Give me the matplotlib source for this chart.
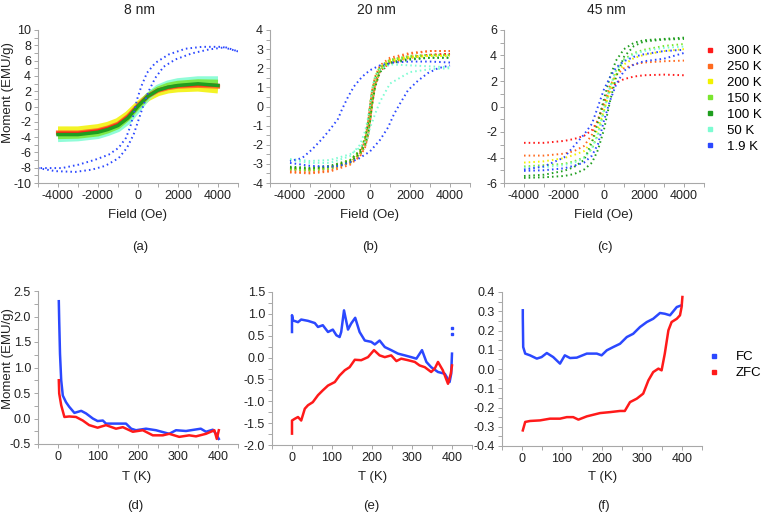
import matplotlib
matplotlib.use("Agg")
import matplotlib.pyplot as plt
from matplotlib.lines import Line2D
from matplotlib.ticker import MultipleLocator

plt.rcParams['font.family'] = ['Liberation Sans', 'DejaVu Sans']
plt.rcParams['axes.unicode_minus'] = False

# ---------------- data ----------------
temps = ['300 K', '250 K', '200 K', '150 K', '100 K', '50 K', '1.9 K']
colors = ['#ff1a1a', '#ff6a1f', '#f2f200', '#7ae62e', '#1f9e1f', '#7dfcd2', '#2b48ff']

# (a) 8 nm
a_field = [-4000, -3000, -2000, -1500, -1000, -500, 0, 500, 1000, 1500, 2000, 3000, 4000]
a_300 = [-3.5, -3.5, -3.2, -2.85, -2.35, -1.35, 0.1, 1.4, 2.15, 2.5, 2.7, 2.85, 2.75]
a_250 = [-3.4, -3.4, -3.1, -2.75, -2.25, -1.25, 0.15, 1.35, 2.05, 2.4, 2.6, 2.7, 2.6]
a_200 = [-3.1, -3.1, -2.8, -2.5, -2.0, -1.1, 0.15, 1.2, 1.85, 2.2, 2.35, 2.45, 2.2]
a_150 = [-3.9, -3.85, -3.55, -3.15, -2.6, -1.5, 0.0, 1.4, 2.25, 2.75, 3.0, 3.2, 3.15]
a_100 = [-3.67, -3.67, -3.36, -3.0, -2.49, -1.49, 0.04, 1.35, 2.14, 2.53, 2.75, 2.97, 2.75]
a_50 = [-4.2, -4.1, -3.8, -3.4, -2.9, -1.9, -0.3, 1.3, 2.4, 2.95, 3.25, 3.5, 3.5]
a_19_field_down = [5000, 4200, 3200, 2367, 1533, 867, 450, 167, -50, -200, -383, -600, -967,
                   -1467, -2133, -2967, -3800, -5000]
a_19_down = [7.2, 7.8, 7.8, 7.55, 6.8, 5.7, 4.4, 2.65, 0.9, -0.85, -2.6, -4.1, -5.4,
             -6.3, -6.95, -7.6, -8.05, -8.05]
a_19_field_up = [-5000, -4133, -3133, -2300, -1633, -967, -550, -217, 33, 283, 533, 867,
                 1283, 1867, 2700, 3533, 4367, 5000]
a_19_up = [-8.05, -8.45, -8.55, -8.25, -7.75, -6.75, -5.4, -3.65, -1.7, 0.25, 2.0, 3.75,
           5.2, 6.15, 6.95, 7.45, 7.75, 7.2]

# (b) 20 nm
b_field = [-4000, -3000, -2000, -1000, -500, -250, -100, 0, 100, 250, 500, 1000, 2000, 3000, 4000]
b_300_down = [-3.25, -3.3, -3.2, -2.85, -2.4, -1.75, -0.85, 0.0, 0.75, 1.45, 2.0, 2.35, 2.6, 2.7, 2.75]
b_300_up = [-3.3, -3.35, -3.25, -2.95, -2.55, -2.1, -1.5, -0.8, 0.1, 1.05, 1.85, 2.3, 2.55, 2.7, 2.75]
b_250_down = [-3.4, -3.45, -3.35, -2.95, -2.45, -1.8, -0.9, 0.0, 0.8, 1.55, 2.15, 2.55, 2.8, 2.9, 2.9]
b_250_up = [-3.45, -3.5, -3.4, -3.05, -2.6, -2.15, -1.55, -0.85, 0.1, 1.1, 1.95, 2.45, 2.75, 2.9, 2.9]
b_200_down = [-3.2, -3.25, -3.15, -2.8, -2.3, -1.65, -0.8, 0.05, 0.8, 1.5, 2.05, 2.4, 2.6, 2.65, 2.65]
b_200_up = [-3.25, -3.3, -3.2, -2.9, -2.45, -2.0, -1.4, -0.7, 0.15, 1.1, 1.9, 2.35, 2.55, 2.65, 2.65]
b_150_down = [-3.25, -3.3, -3.2, -2.85, -2.35, -1.7, -0.8, 0.05, 0.85, 1.55, 2.1, 2.45, 2.65, 2.7, 2.7]
b_150_up = [-3.3, -3.35, -3.25, -2.95, -2.5, -2.05, -1.45, -0.75, 0.1, 1.1, 1.9, 2.4, 2.6, 2.7, 2.7]
b_100_down = [-3.15, -3.2, -3.1, -2.8, -2.3, -1.7, -0.85, 0.0, 0.75, 1.45, 2.0, 2.3, 2.5, 2.55, 2.55]
b_100_up = [-3.2, -3.25, -3.15, -2.9, -2.45, -2.0, -1.45, -0.8, 0.05, 1.0, 1.8, 2.25, 2.45, 2.55, 2.55]
b_50_down = [-2.8, -2.95, -2.95, -2.6, -2.0, -1.3, -0.6, 0.0, 0.85, 1.5, 1.95, 2.2, 2.15, 2.1, 2.05]
b_50_up = [-2.75, -2.85, -2.8, -2.5, -2.15, -1.85, -1.6, -1.1, -0.85, -0.4, 0.25, 1.2, 1.8, 1.95, 2.0]
b_19_field_down = [4000, 3000, 2000, 1200, 500, 0, -400, -800, -1100, -1400, -1600, -2000,
                   -2400, -2900, -3400, -4000]
b_19_down = [2.3, 2.35, 2.35, 2.3, 2.15, 1.9, 1.55, 1.05, 0.5, -0.15, -0.65, -1.2, -1.7,
             -2.25, -2.7, -2.85]
b_19_field_up = [-4000, -3000, -2000, -1500, -600, 0, 500, 900, 1200, 1500, 1900, 2400, 2900,
                 3400, 4000]
b_19_up = [-2.95, -3.1, -3.15, -3.1, -2.75, -2.35, -1.75, -1.1, -0.4, 0.15, 0.85, 1.35, 1.75,
           2.0, 2.15]

# (c) 45 nm
c_field = [-4000, -3000, -2000, -1500, -1000, -600, -300, 0, 300, 600, 1000, 1500, 2000, 3000, 4000]
c_300 = [-2.85, -2.85, -2.7, -2.55, -2.3, -1.85, -1.1, 0.2, 1.25, 1.85, 2.15, 2.35, 2.45, 2.5, 2.45]
c_250 = [-3.85, -3.85, -3.7, -3.5, -3.1, -2.2, -1.0, 0.35, 1.6, 2.45, 3.0, 3.3, 3.45, 3.55, 3.6]
c_200 = [-4.4, -4.3, -4.05, -3.8, -3.5, -2.75, -1.7, -0.3, 1.2, 2.5, 3.3, 3.8, 4.05, 4.35, 4.5]
c_150 = [-4.7, -4.6, -4.5, -4.3, -4.0, -3.3, -2.2, -0.35, 1.45, 2.85, 3.7, 4.2, 4.45, 4.75, 4.9]
c_100_down = [-5.45, -5.35, -5.05, -4.75, -4.2, -2.8, -1.2, 0.6, 2.3, 3.6, 4.5, 5.0, 5.2, 5.3, 5.4]
c_100_up = [-5.6, -5.55, -5.45, -5.3, -4.95, -4.4, -3.4, -1.8, 0.4, 2.3, 3.9, 4.75, 5.1, 5.25, 5.3]
c_50 = [-4.8, -4.75, -4.6, -4.4, -4.05, -3.3, -2.1, -0.2, 1.5, 2.8, 3.6, 4.1, 4.35, 4.6, 4.7]
c_19_down = [-4.95, -4.7, -4.0, -3.1, -2.2, -1.35, 0.0, 1.35, 2.3, 3.05, 3.55, 3.9, 4.1, 4.35, 4.45]
c_19_up = [-5.05, -5.0, -4.85, -4.65, -4.4, -3.85, -2.95, -1.1, 0.45, 1.7, 2.8, 3.3, 3.55, 3.75, 4.2]

# (d) 8 nm FC / ZFC
d_T_fc = [2, 3, 5, 8, 12, 20, 28, 41, 58, 70, 87, 99, 112, 120, 145, 170, 183, 195, 220,
          245, 278, 295, 320, 357, 370, 387, 395, 402]
d_fc = [2.30, 1.92, 1.27, 0.75, 0.45, 0.32, 0.23, 0.11, 0.15, 0.10, 0.0, -0.05, -0.04, -0.10,
        -0.10, -0.10, -0.20, -0.23, -0.20, -0.23, -0.30, -0.23, -0.245, -0.20, -0.26, -0.22,
        -0.30, -0.40]
d_T_zfc = [2, 3, 8, 16, 28, 45, 62, 78, 99, 120, 145, 162, 187, 212, 237, 262, 278, 303, 328,
           345, 370, 391, 397, 402]
d_zfc = [0.75, 0.49, 0.26, 0.03, 0.04, 0.03, -0.04, -0.13, -0.18, -0.13, -0.20, -0.17, -0.26,
         -0.23, -0.33, -0.33, -0.30, -0.36, -0.33, -0.35, -0.30, -0.23, -0.40, -0.23]

# (e) 20 nm FC / ZFC
e_T_fc = [0, 0, 2.5, 15, 23, 40, 57, 65, 77, 90, 102, 111, 119, 123, 130, 140, 148, 158, 169,
          182, 198, 207, 219, 232, 248, 265, 282, 298, 311, 325, 336, 348, 365, 382, 394, 398, 400]
e_fc = [0.585, 0.97, 0.85, 0.81, 0.87, 0.84, 0.79, 0.70, 0.74, 0.585, 0.64, 0.51, 0.47, 0.585,
        1.08, 0.64, 0.78, 0.91, 0.585, 0.39, 0.36, 0.30, 0.39, 0.24, 0.17, 0.09, 0.05, 0.01,
        -0.025, 0.17, -0.10, -0.22, -0.33, -0.37, -0.56, -0.37, 0.09]
e_T_fc_end = [400, 400]
e_fc_end = [0.68, 0.53]
e_T_zfc = [0, 0, 7, 15, 23, 32, 40, 52, 65, 77, 90, 107, 119, 132, 144, 157, 173, 190, 205,
           219, 232, 248, 261, 273, 290, 307, 319, 332, 348, 357, 365, 377, 390, 397, 400]
e_zfc = [-1.74, -1.44, -1.40, -1.36, -1.44, -1.17, -1.09, -1.02, -0.86, -0.75, -0.64, -0.56,
         -0.41, -0.29, -0.22, -0.05, -0.06, 0.01, 0.17, 0.05, 0.01, 0.05, -0.08, -0.025, -0.06,
         -0.10, -0.18, -0.22, -0.33, -0.25, -0.10, -0.29, -0.60, -0.37, -0.18]

# (f) 45 nm FC / ZFC
f_T_fc = [2, 2, 3, 8, 20, 37, 49, 62, 78, 95, 107, 120, 137, 162, 187, 199, 212, 228, 245, 262,
          278, 295, 312, 328, 345, 357, 370, 387, 399]
f_fc = [0.305, 0.27, 0.114, 0.08, 0.071, 0.054, 0.062, 0.083, 0.062, 0.028, 0.071, 0.057,
        0.059, 0.080, 0.080, 0.071, 0.097, 0.114, 0.131, 0.166, 0.183, 0.218, 0.244, 0.261,
        0.291, 0.287, 0.279, 0.322, 0.331]
f_T_zfc = [2, 8, 20, 45, 70, 95, 112, 128, 141, 162, 195, 220, 245, 257, 270, 287, 303, 316,
           328, 341, 349, 357, 366, 374, 387, 395, 399, 401]
f_zfc = [-0.319, -0.275, -0.27, -0.267, -0.258, -0.258, -0.25, -0.25, -0.263, -0.246, -0.229,
         -0.224, -0.218, -0.218, -0.172, -0.154, -0.128, -0.059, -0.016, 0.002, -0.007, 0.080,
         0.201, 0.244, 0.261, 0.279, 0.322, 0.374]

# ---------------- figure ----------------
W, H = 762, 514
fig = plt.figure(figsize=(W / 100, H / 100), dpi=100)


def add_ax(x0, y0, x1, y1):
    return fig.add_axes([x0 / W, 1 - y1 / H, (x1 - x0) / W, (y1 - y0) / H])


def style(ax, xlim, ylim, xmaj, xmin, ymaj, ymin):
    ax.set_xlim(*xlim)
    ax.set_ylim(*ylim)
    ax.xaxis.set_major_locator(MultipleLocator(xmaj))
    ax.xaxis.set_minor_locator(MultipleLocator(xmin))
    ax.yaxis.set_major_locator(MultipleLocator(ymaj))
    ax.yaxis.set_minor_locator(MultipleLocator(ymin))
    for s in ['top', 'right']:
        ax.spines[s].set_visible(False)
    for s in ['left', 'bottom']:
        ax.spines[s].set_color('#a8a8a8')
        ax.spines[s].set_linewidth(0.8)
    ax.tick_params(which='both', direction='out', length=3, width=0.7, color='#a8a8a8',
                   labelsize=9, labelcolor='#222222', pad=2)


def ftext(x, y, s, size=9.5, **kw):
    fig.text(x / W, 1 - y / H, s, ha='center', va='center', fontsize=size, color='#222222', **kw)


dot = dict(ls=(0, (0.8, 1.6)), lw=1.4)

# (a)
ax = add_ax(38, 30, 238, 183)
style(ax, (-5000, 5000), (-10, 10), 2000, 1000, 2, 1)
ax.plot(a_field, a_200, color=colors[2], lw=5.5, alpha=0.85, solid_capstyle='butt')
ax.plot(a_field, a_50, color=colors[5], lw=5, alpha=0.85, solid_capstyle='butt')
ax.plot(a_field, a_150, color=colors[3], lw=4, alpha=0.85, solid_capstyle='butt')
ax.plot(a_field, a_250, color=colors[1], lw=3, alpha=0.9)
ax.plot(a_field, a_300, color=colors[0], lw=2.5, alpha=0.9)
ax.plot(a_field, a_100, color=colors[4], lw=2.5)
ax.plot(a_19_field_down, a_19_down, color=colors[6], **dot)
ax.plot(a_19_field_up, a_19_up, color=colors[6], **dot)
ax.set_ylabel('Moment (EMU/g)', fontsize=9.5, color='#222222')
ax.yaxis.set_label_coords(-0.12, 0.59)

# (b)
ax = add_ax(270, 30, 470, 183)
style(ax, (-5000, 5000), (-4, 4), 2000, 1000, 1, 0.5)
b_sets = [(b_300_down, b_300_up), (b_250_down, b_250_up), (b_200_down, b_200_up),
          (b_150_down, b_150_up), (b_100_down, b_100_up), (b_50_down, b_50_up)]
for i, (dn, up) in enumerate(b_sets):
    ax.plot(b_field, dn, color=colors[i], **dot)
    ax.plot(b_field, up, color=colors[i], **dot)
ax.plot(b_19_field_down, b_19_down, color=colors[6], **dot)
ax.plot(b_19_field_up, b_19_up, color=colors[6], **dot)

# (c)
ax = add_ax(504, 30, 704, 183)
style(ax, (-5000, 5000), (-6, 6), 2000, 1000, 2, 1)
ax.plot(c_field, c_300, color=colors[0], **dot)
ax.plot(c_field, c_250, color=colors[1], **dot)
ax.plot(c_field, c_200, color=colors[2], **dot)
ax.plot(c_field, c_150, color=colors[3], **dot)
ax.plot(c_field, c_100_down, color=colors[4], **dot)
ax.plot(c_field, c_100_up, color=colors[4], **dot)
ax.plot(c_field, c_50, color=colors[5], **dot)
ax.plot(c_field, c_19_down, color=colors[6], **dot)
ax.plot(c_field, c_19_up, color=colors[6], **dot)

handles = [Line2D([], [], ls='none', marker='s', ms=3.2, color=c) for c in colors]
fig.legend(handles, temps, loc='upper left', bbox_to_anchor=(705 / W, 1 - 45 / H),
           frameon=False, fontsize=9.5, handlelength=0.8, handletextpad=0.9,
           labelspacing=0.28, borderpad=0, borderaxespad=0)

# bottom row
fc_col, zfc_col = '#2b48ff', '#ff1a1a'
line = dict(lw=1.8)

ax = add_ax(38, 291, 238, 444)
style(ax, (-50, 450), (-0.5, 2.5), 100, 50, 0.5, 0.25)
ax.plot(d_T_fc, d_fc, color=fc_col, **line)
ax.plot(d_T_zfc, d_zfc, color=zfc_col, **line)
ax.set_ylabel('Moment (EMU/g)', fontsize=9.5, color='#222222')
ax.yaxis.set_label_coords(-0.12, 0.56)

ax = add_ax(272, 292, 472, 445)
style(ax, (-50, 450), (-2.0, 1.5), 100, 50, 0.5, 0.25)
ax.plot(e_T_fc, e_fc, color=fc_col, **line)
ax.plot(e_T_fc_end, e_fc_end, ls='none', marker='s', ms=1.5, color=fc_col)
ax.plot(e_T_zfc, e_zfc, color=zfc_col, **line)

ax = add_ax(502, 292, 702, 446)
style(ax, (-50, 450), (-0.4, 0.4), 100, 50, 0.1, 0.05)
ax.plot(f_T_fc, f_fc, color=fc_col, **line)
ax.plot(f_T_zfc, f_zfc, color=zfc_col, **line)

h2 = [Line2D([], [], ls='none', marker='s', ms=3.2, color=c) for c in (fc_col, zfc_col)]
fig.legend(h2, ['FC', 'ZFC'], loc='upper left', bbox_to_anchor=(709 / W, 1 - 351 / H),
           frameon=False, fontsize=9.5, handlelength=0.8, handletextpad=1.2,
           labelspacing=0.3, borderpad=0, borderaxespad=0)

# titles and labels
ftext(140, 10, '8 nm', size=10)
ftext(376, 10, '20 nm', size=10)
ftext(606, 10, '45 nm', size=10)
for x in (138, 370, 603):
    ftext(x, 215, 'Field (Oe)')
for x in (137, 373, 603):
    ftext(x, 477, 'T (K)')
for x, s in [(140, '(a)'), (370, '(b)'), (605, '(c)')]:
    ftext(x, 247, s)
for x, s in [(135, '(d)'), (371, '(e)'), (603, '(f)')]:
    ftext(x, 506, s)

fig.savefig('out.png', dpi=100)
